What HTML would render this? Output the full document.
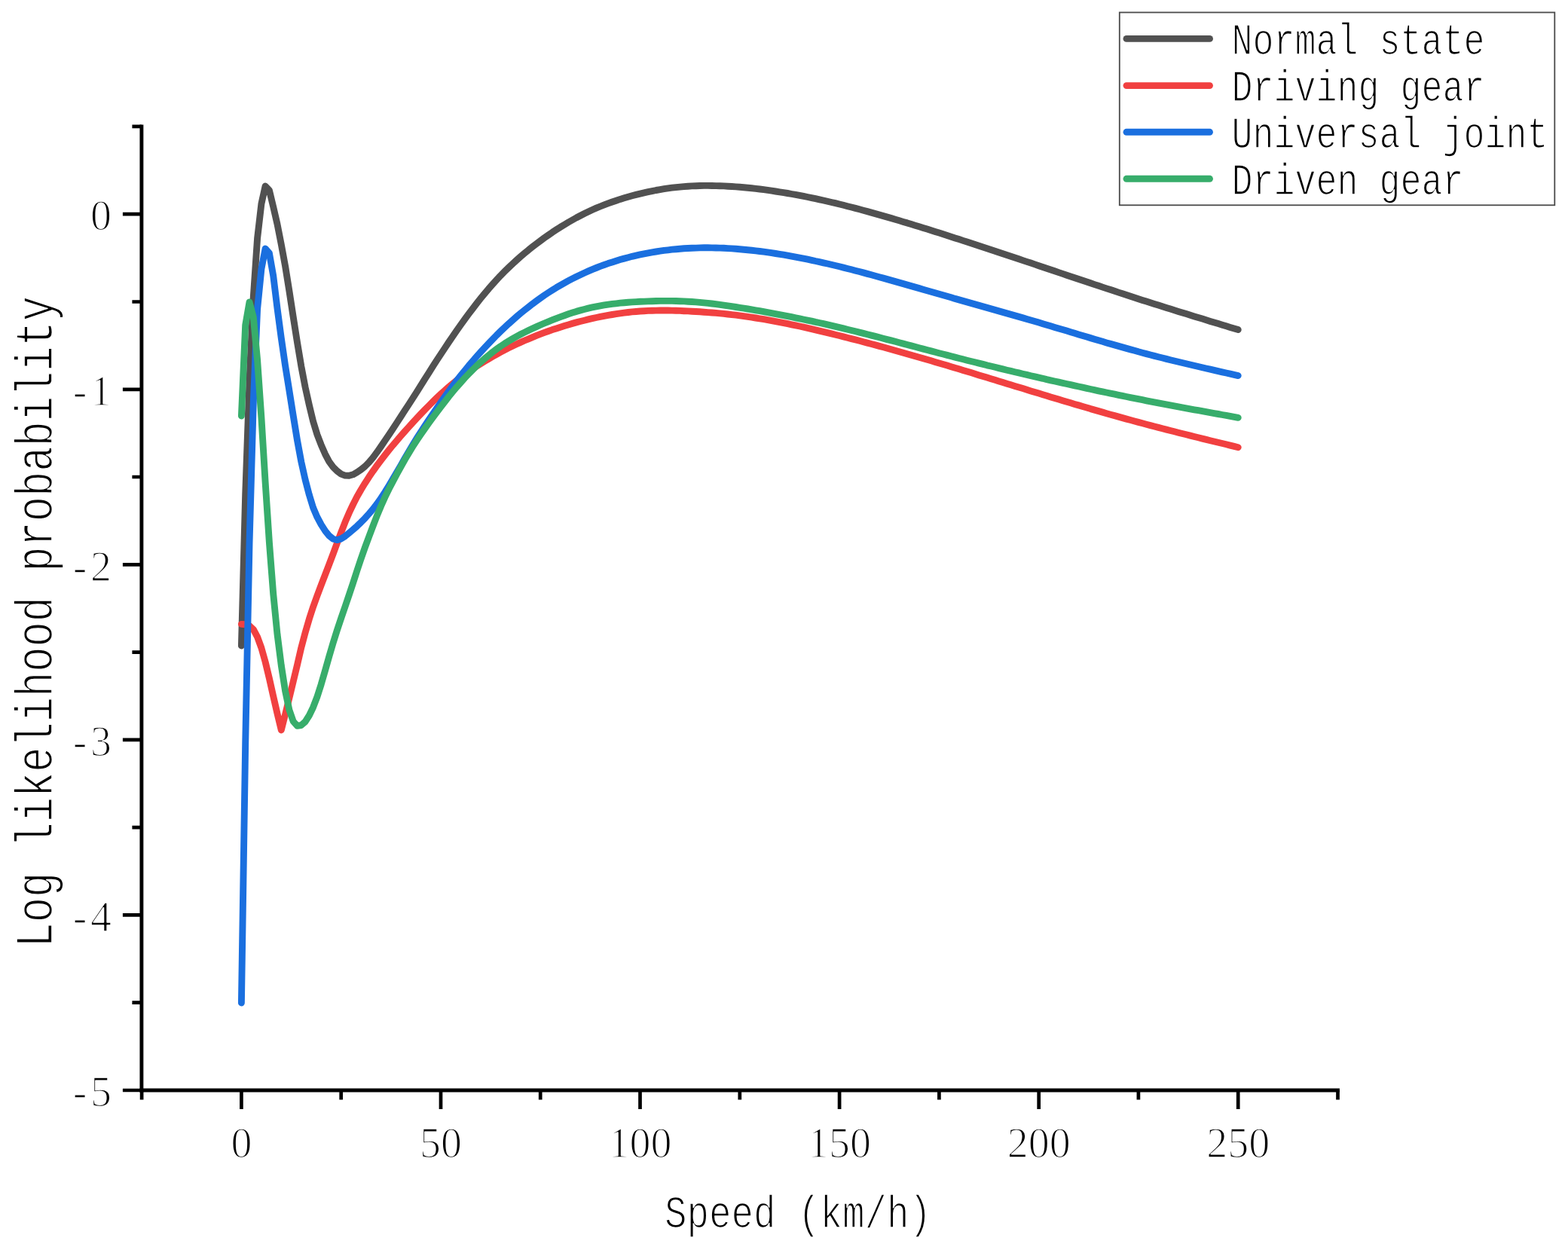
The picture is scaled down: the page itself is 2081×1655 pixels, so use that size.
<!DOCTYPE html>
<html lang="en"><head><meta charset="utf-8"><title>Log likelihood probability</title>
<style>html,body{margin:0;padding:0;background:#fff}body{width:2081px;height:1655px;overflow:hidden}svg{display:block;filter:blur(0.55px)}text{font-family:"Liberation Mono","DejaVu Sans Mono",monospace;fill:#000;stroke:#fff;stroke-width:1.7px;paint-order:fill stroke;stroke-linejoin:round;white-space:pre}.tk text{font-family:"Liberation Serif","DejaVu Serif",serif;font-size:56px;stroke-width:1.6px}</style></head><body>
<svg width="2081" height="1655" viewBox="0 0 2081 1655">
<rect width="2081" height="1655" fill="#fff"/>
<g fill="none" stroke-width="8.9" stroke-linecap="round" stroke-linejoin="round">
<path stroke="#515151" d="M320.4 857.0L325.7 656.0L331.0 506.0L336.3 394.0L341.6 316.0L346.9 270.5L352.1 247.0L357.4 252.5L362.7 274.5L368.0 297.5L373.3 324.5L378.6 353.2L383.9 386.3L389.2 420.8L394.5 454.4L399.8 486.1L405.1 513.9L410.4 537.8L415.6 559.2L420.9 576.6L426.2 590.4L431.5 602.6L436.8 612.6L442.1 619.8L447.4 625.2L452.7 629.1L458.0 631.1L463.3 631.3L468.6 629.8L473.8 626.9L479.1 623.3L484.4 619.0L489.7 613.6L495.0 607.3L500.3 600.2L505.6 592.6L510.9 584.8L516.2 576.9L521.5 569.0L526.8 560.9L532.1 552.8L537.3 544.7L542.6 536.6L547.9 528.4L553.2 520.1L558.5 511.7L563.8 503.2L569.1 494.8L574.4 486.4L579.7 478.2L585.0 470.1L590.3 462.1L595.5 454.2L600.8 446.5L606.1 438.8L611.4 431.3L616.7 423.9L622.0 416.7L627.3 409.7L632.6 402.8L637.9 396.1L643.2 389.6L648.5 383.3L653.8 377.3L659.0 371.5L664.3 365.8L669.6 360.4L674.9 355.2L680.2 350.2L685.5 345.4L690.8 340.7L696.1 336.2L701.4 331.8L706.7 327.6L712.0 323.5L717.2 319.6L722.5 315.7L727.8 312.0L733.1 308.3L738.4 304.8L743.7 301.4L749.0 298.2L754.3 295.0L759.6 292.0L764.9 289.0L770.2 286.2L775.5 283.5L780.7 281.0L786.0 278.5L791.3 276.2L796.6 274.0L801.9 271.9L807.2 269.9L812.5 268.0L817.8 266.2L823.1 264.4L828.4 262.8L833.7 261.3L838.9 259.8L844.2 258.4L849.5 257.1L854.8 255.9L860.1 254.7L865.4 253.6L870.7 252.5L876.0 251.6L881.3 250.7L886.6 249.9L891.9 249.2L897.2 248.6L902.4 248.1L907.7 247.6L913.0 247.2L918.3 246.9L923.6 246.7L928.9 246.5L934.2 246.4L939.5 246.4L944.8 246.5L950.1 246.6L955.4 246.7L960.6 246.9L965.9 247.2L971.2 247.5L976.5 247.9L981.8 248.3L987.1 248.8L992.4 249.3L997.7 249.8L1003.0 250.4L1008.3 251.0L1013.6 251.7L1018.9 252.4L1024.1 253.2L1029.4 254.0L1034.7 254.8L1040.0 255.6L1045.3 256.5L1050.6 257.5L1055.9 258.4L1061.2 259.4L1066.5 260.4L1071.8 261.5L1077.1 262.6L1082.3 263.7L1087.6 264.9L1092.9 266.0L1098.2 267.3L1103.5 268.5L1108.8 269.7L1114.1 271.0L1119.4 272.3L1124.7 273.7L1130.0 275.0L1135.3 276.4L1140.6 277.8L1145.8 279.2L1151.1 280.6L1156.4 282.1L1161.7 283.6L1167.0 285.1L1172.3 286.6L1177.6 288.1L1182.9 289.6L1188.2 291.2L1193.5 292.8L1198.8 294.4L1204.0 295.9L1209.3 297.6L1214.6 299.2L1219.9 300.8L1225.2 302.5L1230.5 304.1L1235.8 305.8L1241.1 307.5L1246.4 309.1L1251.7 310.8L1257.0 312.5L1262.3 314.2L1267.5 315.9L1272.8 317.6L1278.1 319.4L1283.4 321.1L1288.7 322.8L1294.0 324.5L1299.3 326.3L1304.6 328.0L1309.9 329.7L1315.2 331.5L1320.5 333.2L1325.7 335.0L1331.0 336.8L1336.3 338.5L1341.6 340.3L1346.9 342.0L1352.2 343.8L1357.5 345.6L1362.8 347.4L1368.1 349.1L1373.4 350.9L1378.7 352.7L1384.0 354.5L1389.2 356.2L1394.5 358.0L1399.8 359.8L1405.1 361.6L1410.4 363.4L1415.7 365.2L1421.0 366.9L1426.3 368.7L1431.6 370.5L1436.9 372.3L1442.2 374.0L1447.4 375.8L1452.7 377.6L1458.0 379.3L1463.3 381.1L1468.6 382.9L1473.9 384.6L1479.2 386.3L1484.5 388.1L1489.8 389.8L1495.1 391.5L1500.4 393.3L1505.7 395.0L1510.9 396.7L1516.2 398.4L1521.5 400.1L1526.8 401.8L1532.1 403.4L1537.4 405.1L1542.7 406.8L1548.0 408.4L1553.3 410.1L1558.6 411.7L1563.9 413.4L1569.1 415.0L1574.4 416.6L1579.7 418.3L1585.0 419.9L1590.3 421.5L1595.6 423.1L1600.9 424.7L1606.2 426.4L1611.5 428.0L1616.8 429.6L1622.1 431.2L1627.4 432.8L1632.6 434.4L1637.9 436.0L1643.2 437.6"/>
<path stroke="#F14040" d="M320.4 828.4L325.7 828.8L331.0 830.4L336.3 835.4L341.6 845.4L346.9 859.9L352.1 878.4L357.4 900.4L362.7 923.9L368.0 947.0L373.3 969.0L378.6 948.0L383.9 926.5L389.2 904.5L394.5 882.5L399.8 859.6L405.1 839.7L410.4 821.4L415.6 805.4L420.9 790.7L426.2 776.7L431.5 762.9L436.8 749.2L442.1 735.1L447.4 720.7L452.7 706.6L458.0 693.1L463.3 680.7L468.6 669.5L473.8 659.3L479.1 650.0L484.4 641.3L489.7 633.1L495.0 625.3L500.3 617.9L505.6 610.8L510.9 604.0L516.2 597.3L521.5 590.8L526.8 584.6L532.1 578.4L537.3 572.5L542.6 566.6L547.9 560.7L553.2 555.0L558.5 549.4L563.8 543.9L569.1 538.5L574.4 533.2L579.7 528.0L585.0 523.0L590.3 518.2L595.5 513.6L600.8 509.2L606.1 505.0L611.4 500.9L616.7 497.0L622.0 493.2L627.3 489.6L632.6 486.1L637.9 482.7L643.2 479.4L648.5 476.3L653.8 473.2L659.0 470.3L664.3 467.4L669.6 464.6L674.9 461.9L680.2 459.3L685.5 456.8L690.8 454.4L696.1 452.0L701.4 449.8L706.7 447.6L712.0 445.4L717.2 443.4L722.5 441.4L727.8 439.5L733.1 437.6L738.4 435.9L743.7 434.2L749.0 432.5L754.3 430.9L759.6 429.4L764.9 427.9L770.2 426.5L775.5 425.2L780.7 423.9L786.0 422.7L791.3 421.5L796.6 420.4L801.9 419.4L807.2 418.4L812.5 417.5L817.8 416.7L823.1 415.9L828.4 415.2L833.7 414.5L838.9 413.9L844.2 413.5L849.5 413.0L854.8 412.7L860.1 412.4L865.4 412.2L870.7 412.1L876.0 412.0L881.3 412.0L886.6 412.0L891.9 412.1L897.2 412.3L902.4 412.4L907.7 412.7L913.0 412.9L918.3 413.2L923.6 413.5L928.9 413.8L934.2 414.2L939.5 414.6L944.8 415.0L950.1 415.4L955.4 415.9L960.6 416.4L965.9 417.0L971.2 417.6L976.5 418.2L981.8 418.9L987.1 419.6L992.4 420.4L997.7 421.1L1003.0 422.0L1008.3 422.8L1013.6 423.7L1018.9 424.6L1024.1 425.6L1029.4 426.6L1034.7 427.6L1040.0 428.6L1045.3 429.7L1050.6 430.8L1055.9 431.9L1061.2 433.0L1066.5 434.2L1071.8 435.4L1077.1 436.6L1082.3 437.8L1087.6 439.1L1092.9 440.3L1098.2 441.6L1103.5 442.9L1108.8 444.2L1114.1 445.5L1119.4 446.9L1124.7 448.2L1130.0 449.6L1135.3 450.9L1140.6 452.3L1145.8 453.7L1151.1 455.1L1156.4 456.5L1161.7 457.9L1167.0 459.4L1172.3 460.8L1177.6 462.3L1182.9 463.7L1188.2 465.2L1193.5 466.7L1198.8 468.2L1204.0 469.7L1209.3 471.2L1214.6 472.7L1219.9 474.2L1225.2 475.8L1230.5 477.3L1235.8 478.8L1241.1 480.4L1246.4 482.0L1251.7 483.5L1257.0 485.1L1262.3 486.7L1267.5 488.3L1272.8 489.8L1278.1 491.4L1283.4 493.0L1288.7 494.6L1294.0 496.2L1299.3 497.9L1304.6 499.5L1309.9 501.1L1315.2 502.7L1320.5 504.3L1325.7 505.9L1331.0 507.6L1336.3 509.2L1341.6 510.8L1346.9 512.4L1352.2 514.0L1357.5 515.6L1362.8 517.3L1368.1 518.9L1373.4 520.5L1378.7 522.1L1384.0 523.7L1389.2 525.3L1394.5 526.9L1399.8 528.5L1405.1 530.1L1410.4 531.7L1415.7 533.2L1421.0 534.8L1426.3 536.4L1431.6 537.9L1436.9 539.5L1442.2 541.0L1447.4 542.6L1452.7 544.1L1458.0 545.6L1463.3 547.1L1468.6 548.7L1473.9 550.2L1479.2 551.6L1484.5 553.1L1489.8 554.6L1495.1 556.1L1500.4 557.5L1505.7 559.0L1510.9 560.4L1516.2 561.8L1521.5 563.2L1526.8 564.6L1532.1 566.0L1537.4 567.4L1542.7 568.8L1548.0 570.1L1553.3 571.5L1558.6 572.8L1563.9 574.2L1569.1 575.5L1574.4 576.8L1579.7 578.1L1585.0 579.5L1590.3 580.8L1595.6 582.1L1600.9 583.4L1606.2 584.7L1611.5 586.0L1616.8 587.3L1622.1 588.5L1627.4 589.8L1632.6 591.1L1637.9 592.4L1643.2 593.7"/>
<path stroke="#1A6FDF" d="M320.4 1331.0L325.7 987.0L331.0 722.0L336.3 534.0L341.6 410.0L346.9 357.0L352.1 330.0L357.4 336.0L362.7 366.0L368.0 409.3L373.3 448.9L378.6 485.3L383.9 518.4L389.2 551.7L394.5 584.3L399.8 612.9L405.1 636.6L410.4 656.8L415.6 673.7L420.9 686.2L426.2 696.2L431.5 704.4L436.8 711.1L442.1 715.3L447.4 716.6L452.7 715.1L458.0 711.7L463.3 707.3L468.6 702.9L473.8 698.3L479.1 693.2L484.4 687.8L489.7 681.9L495.0 675.7L500.3 668.8L505.6 661.2L510.9 653.1L516.2 644.5L521.5 635.6L526.8 626.6L532.1 617.5L537.3 608.3L542.6 599.2L547.9 590.3L553.2 581.7L558.5 573.4L563.8 565.3L569.1 557.3L574.4 549.4L579.7 541.7L585.0 534.1L590.3 526.6L595.5 519.3L600.8 512.2L606.1 505.3L611.4 498.5L616.7 492.0L622.0 485.5L627.3 479.3L632.6 473.2L637.9 467.3L643.2 461.5L648.5 455.9L653.8 450.4L659.0 445.0L664.3 439.8L669.6 434.8L674.9 429.8L680.2 425.1L685.5 420.4L690.8 415.9L696.1 411.6L701.4 407.4L706.7 403.3L712.0 399.4L717.2 395.6L722.5 391.9L727.8 388.4L733.1 385.0L738.4 381.7L743.7 378.6L749.0 375.6L754.3 372.7L759.6 369.9L764.9 367.2L770.2 364.7L775.5 362.2L780.7 359.9L786.0 357.6L791.3 355.5L796.6 353.4L801.9 351.5L807.2 349.6L812.5 347.9L817.8 346.2L823.1 344.6L828.4 343.1L833.7 341.7L838.9 340.3L844.2 339.1L849.5 337.9L854.8 336.8L860.1 335.8L865.4 334.8L870.7 334.0L876.0 333.2L881.3 332.4L886.6 331.8L891.9 331.2L897.2 330.7L902.4 330.2L907.7 329.8L913.0 329.5L918.3 329.2L923.6 329.1L928.9 328.9L934.2 328.8L939.5 328.8L944.8 328.9L950.1 329.0L955.4 329.1L960.6 329.3L965.9 329.6L971.2 329.9L976.5 330.3L981.8 330.7L987.1 331.2L992.4 331.7L997.7 332.2L1003.0 332.8L1008.3 333.5L1013.6 334.2L1018.9 334.9L1024.1 335.7L1029.4 336.5L1034.7 337.3L1040.0 338.2L1045.3 339.1L1050.6 340.1L1055.9 341.1L1061.2 342.1L1066.5 343.1L1071.8 344.2L1077.1 345.3L1082.3 346.5L1087.6 347.6L1092.9 348.8L1098.2 350.0L1103.5 351.3L1108.8 352.5L1114.1 353.8L1119.4 355.1L1124.7 356.5L1130.0 357.8L1135.3 359.2L1140.6 360.5L1145.8 361.9L1151.1 363.4L1156.4 364.8L1161.7 366.2L1167.0 367.7L1172.3 369.1L1177.6 370.6L1182.9 372.1L1188.2 373.6L1193.5 375.1L1198.8 376.6L1204.0 378.1L1209.3 379.6L1214.6 381.1L1219.9 382.6L1225.2 384.2L1230.5 385.7L1235.8 387.2L1241.1 388.8L1246.4 390.3L1251.7 391.8L1257.0 393.3L1262.3 394.8L1267.5 396.4L1272.8 397.9L1278.1 399.4L1283.4 400.9L1288.7 402.4L1294.0 403.9L1299.3 405.4L1304.6 406.9L1309.9 408.4L1315.2 409.9L1320.5 411.4L1325.7 412.9L1331.0 414.4L1336.3 415.9L1341.6 417.4L1346.9 418.9L1352.2 420.4L1357.5 421.9L1362.8 423.5L1368.1 425.0L1373.4 426.5L1378.7 428.1L1384.0 429.7L1389.2 431.2L1394.5 432.8L1399.8 434.4L1405.1 436.0L1410.4 437.5L1415.7 439.1L1421.0 440.7L1426.3 442.3L1431.6 443.9L1436.9 445.5L1442.2 447.1L1447.4 448.6L1452.7 450.2L1458.0 451.8L1463.3 453.3L1468.6 454.9L1473.9 456.4L1479.2 457.9L1484.5 459.4L1489.8 460.9L1495.1 462.4L1500.4 463.9L1505.7 465.3L1510.9 466.8L1516.2 468.2L1521.5 469.6L1526.8 471.0L1532.1 472.4L1537.4 473.7L1542.7 475.0L1548.0 476.4L1553.3 477.7L1558.6 479.0L1563.9 480.3L1569.1 481.5L1574.4 482.8L1579.7 484.0L1585.0 485.3L1590.3 486.5L1595.6 487.8L1600.9 489.0L1606.2 490.2L1611.5 491.4L1616.8 492.6L1622.1 493.8L1627.4 495.0L1632.6 496.2L1637.9 497.4L1643.2 498.6"/>
<path stroke="#37AD6B" d="M320.4 552.0L325.7 431.5L331.0 401.0L336.3 421.0L341.6 478.0L346.9 554.2L352.1 639.8L357.4 719.9L362.7 788.1L368.0 841.6L373.3 883.2L378.6 917.1L383.9 942.1L389.2 957.4L394.5 963.4L399.8 962.5L405.1 957.8L410.4 949.5L415.6 938.7L420.9 924.9L426.2 908.3L431.5 889.9L436.8 871.3L442.1 853.2L447.4 836.3L452.7 820.5L458.0 805.1L463.3 789.5L468.6 773.6L473.8 757.5L479.1 741.6L484.4 726.6L489.7 712.2L495.0 698.1L500.3 684.5L505.6 671.7L510.9 659.9L516.2 649.0L521.5 638.9L526.8 629.0L532.1 619.3L537.3 610.0L542.6 601.1L547.9 592.5L553.2 584.3L558.5 576.5L563.8 568.9L569.1 561.5L574.4 554.2L579.7 547.1L585.0 540.0L590.3 533.2L595.5 526.5L600.8 520.0L606.1 513.7L611.4 507.7L616.7 501.8L622.0 496.2L627.3 490.8L632.6 485.6L637.9 480.7L643.2 476.0L648.5 471.6L653.8 467.3L659.0 463.4L664.3 459.6L669.6 456.1L674.9 452.8L680.2 449.6L685.5 446.6L690.8 443.8L696.1 441.1L701.4 438.5L706.7 436.0L712.0 433.6L717.2 431.3L722.5 429.0L727.8 426.8L733.1 424.7L738.4 422.6L743.7 420.6L749.0 418.7L754.3 416.8L759.6 415.1L764.9 413.4L770.2 411.9L775.5 410.5L780.7 409.1L786.0 407.9L791.3 406.8L796.6 405.8L801.9 404.9L807.2 404.1L812.5 403.4L817.8 402.8L823.1 402.2L828.4 401.7L833.7 401.3L838.9 400.9L844.2 400.6L849.5 400.3L854.8 400.1L860.1 399.9L865.4 399.7L870.7 399.5L876.0 399.4L881.3 399.4L886.6 399.4L891.9 399.4L897.2 399.5L902.4 399.7L907.7 399.9L913.0 400.2L918.3 400.5L923.6 400.9L928.9 401.4L934.2 401.9L939.5 402.4L944.8 403.0L950.1 403.7L955.4 404.4L960.6 405.1L965.9 405.9L971.2 406.7L976.5 407.5L981.8 408.3L987.1 409.2L992.4 410.0L997.7 410.9L1003.0 411.8L1008.3 412.7L1013.6 413.7L1018.9 414.6L1024.1 415.6L1029.4 416.6L1034.7 417.6L1040.0 418.6L1045.3 419.6L1050.6 420.7L1055.9 421.8L1061.2 422.9L1066.5 424.0L1071.8 425.1L1077.1 426.2L1082.3 427.4L1087.6 428.5L1092.9 429.7L1098.2 430.9L1103.5 432.1L1108.8 433.4L1114.1 434.6L1119.4 435.9L1124.7 437.2L1130.0 438.5L1135.3 439.8L1140.6 441.1L1145.8 442.4L1151.1 443.7L1156.4 445.1L1161.7 446.4L1167.0 447.8L1172.3 449.2L1177.6 450.6L1182.9 451.9L1188.2 453.3L1193.5 454.7L1198.8 456.1L1204.0 457.5L1209.3 458.9L1214.6 460.3L1219.9 461.7L1225.2 463.1L1230.5 464.5L1235.8 465.9L1241.1 467.3L1246.4 468.7L1251.7 470.0L1257.0 471.4L1262.3 472.8L1267.5 474.1L1272.8 475.5L1278.1 476.8L1283.4 478.2L1288.7 479.5L1294.0 480.8L1299.3 482.1L1304.6 483.4L1309.9 484.8L1315.2 486.0L1320.5 487.3L1325.7 488.6L1331.0 489.9L1336.3 491.2L1341.6 492.4L1346.9 493.7L1352.2 494.9L1357.5 496.2L1362.8 497.4L1368.1 498.7L1373.4 499.9L1378.7 501.1L1384.0 502.3L1389.2 503.6L1394.5 504.8L1399.8 506.0L1405.1 507.2L1410.4 508.3L1415.7 509.5L1421.0 510.7L1426.3 511.9L1431.6 513.0L1436.9 514.2L1442.2 515.4L1447.4 516.5L1452.7 517.6L1458.0 518.8L1463.3 519.9L1468.6 521.0L1473.9 522.1L1479.2 523.2L1484.5 524.3L1489.8 525.4L1495.1 526.5L1500.4 527.6L1505.7 528.6L1510.9 529.7L1516.2 530.7L1521.5 531.8L1526.8 532.8L1532.1 533.8L1537.4 534.9L1542.7 535.9L1548.0 536.9L1553.3 537.9L1558.6 538.9L1563.9 539.9L1569.1 540.8L1574.4 541.8L1579.7 542.8L1585.0 543.8L1590.3 544.7L1595.6 545.7L1600.9 546.7L1606.2 547.6L1611.5 548.6L1616.8 549.5L1622.1 550.5L1627.4 551.4L1632.6 552.4L1637.9 553.3L1643.2 554.3"/>
</g>
<g stroke="#000" fill="none" stroke-linecap="butt">
<path stroke-width="4.9" d="M187.9 165.6V1449.5"/>
<path stroke-width="4.9" d="M185.5 1447.0H1777.9"/>
<path stroke-width="4.7" d="M187.9 284.2h-25.0M187.9 516.8h-25.0M187.9 749.3h-25.0M187.9 981.9h-25.0M187.9 1214.4h-25.0M187.9 1447.0h-25.0M187.9 167.9h-12.5M187.9 400.5h-12.5M187.9 633.0h-12.5M187.9 865.6h-12.5M187.9 1098.2h-12.5M187.9 1330.7h-12.5M320.4 1447.0v25.0M585.0 1447.0v25.0M849.5 1447.0v25.0M1114.1 1447.0v25.0M1378.7 1447.0v25.0M1643.2 1447.0v25.0M188.1 1447.0v12.5M452.7 1447.0v12.5M717.2 1447.0v12.5M981.8 1447.0v12.5M1246.4 1447.0v12.5M1510.9 1447.0v12.5M1775.5 1447.0v12.5"/>
</g>
<g class="tk">
<text x="120.0" y="305.4">0</text>
<text x="96.7 120.0" y="538.0">-1</text>
<text x="96.7 120.0" y="770.5">-2</text>
<text x="96.7 120.0" y="1003.1">-3</text>
<text x="96.7 120.0" y="1235.6">-4</text>
<text x="96.7 120.0" y="1468.2">-5</text>
<text x="306.4" y="1535.8">0</text>
<text x="557.0 585.0" y="1535.8">50</text>
<text x="807.5 835.5 863.5" y="1535.8">100</text>
<text x="1072.1 1100.1 1128.1" y="1535.8">150</text>
<text x="1336.7 1364.7 1392.7" y="1535.8">200</text>
<text x="1601.2 1629.2 1657.2" y="1535.8">250</text>
</g>
<text transform="translate(882.00 1628.60) scale(0.7930 1)" font-size="62" >Speed (km/h)</text>
<text transform="translate(68.8 1257.5) rotate(-90) scale(0.7917 1)" font-size="70">Log likelihood probability</text>
<rect x="1485.8" y="16.5" width="577.5" height="255.8" fill="#fff" stroke="#4a4a4a" stroke-width="1.8"/>
<g fill="none" stroke-width="8.9" stroke-linecap="round">
<path stroke="#515151" d="M1495 51.4H1605.5"/>
<path stroke="#F14040" d="M1495 113.6H1605.5"/>
<path stroke="#1A6FDF" d="M1495 175.3H1605.5"/>
<path stroke="#37AD6B" d="M1495 237.3H1605.5"/>
</g>
<text transform="translate(1634.50 72.20) scale(0.7910 1)" font-size="59" >Normal state</text>
<text transform="translate(1634.50 134.00) scale(0.7910 1)" font-size="59" >Driving gear</text>
<text transform="translate(1634.50 195.90) scale(0.7910 1)" font-size="59" >Universal joint</text>
<text transform="translate(1634.50 257.90) scale(0.7910 1)" font-size="59" >Driven gear</text>
</svg></body></html>
